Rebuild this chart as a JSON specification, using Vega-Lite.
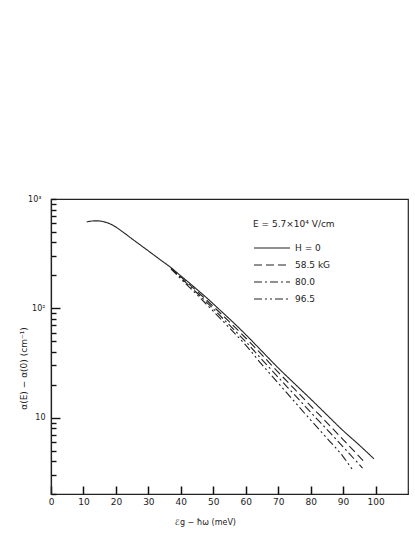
{
  "$schema": "https://vega.github.io/schema/vega-lite/v6.json",
  "width": 357,
  "height": 295,
  "autosize": "none",
  "padding": {"left": 51, "top": 199, "right": 7, "bottom": 43},
  "background": "white",
  "config": {"view": {"stroke": "#222", "strokeWidth": 1.2}, "font": "DejaVu Sans"},
  "data": {"values": [
    {"series": "H = 0", "x": 11, "y": 615},
    {"series": "H = 0", "x": 12, "y": 625},
    {"series": "H = 0", "x": 13, "y": 630},
    {"series": "H = 0", "x": 14, "y": 631},
    {"series": "H = 0", "x": 15, "y": 629},
    {"series": "H = 0", "x": 16, "y": 622},
    {"series": "H = 0", "x": 17, "y": 611},
    {"series": "H = 0", "x": 18, "y": 596},
    {"series": "H = 0", "x": 19, "y": 577},
    {"series": "H = 0", "x": 20, "y": 554},
    {"series": "H = 0", "x": 21, "y": 528},
    {"series": "H = 0", "x": 23, "y": 478},
    {"series": "H = 0", "x": 25, "y": 431},
    {"series": "H = 0", "x": 27.5, "y": 380},
    {"series": "H = 0", "x": 30, "y": 335},
    {"series": "H = 0", "x": 33.6, "y": 279},
    {"series": "H = 0", "x": 37, "y": 235},
    {"series": "H = 0", "x": 40, "y": 198},
    {"series": "H = 0", "x": 43, "y": 167},
    {"series": "H = 0", "x": 46, "y": 140},
    {"series": "H = 0", "x": 49, "y": 117},
    {"series": "H = 0", "x": 52, "y": 96.7},
    {"series": "H = 0", "x": 55, "y": 80},
    {"series": "H = 0", "x": 60, "y": 57.5},
    {"series": "H = 0", "x": 65, "y": 40.5},
    {"series": "H = 0", "x": 70, "y": 28.5},
    {"series": "H = 0", "x": 75, "y": 20.5},
    {"series": "H = 0", "x": 80, "y": 14.8},
    {"series": "H = 0", "x": 85, "y": 10.6},
    {"series": "H = 0", "x": 90, "y": 7.6},
    {"series": "H = 0", "x": 95, "y": 5.6},
    {"series": "H = 0", "x": 99.5, "y": 4.2},
    {"series": "58.5 kG", "x": 37, "y": 233},
    {"series": "58.5 kG", "x": 40, "y": 194},
    {"series": "58.5 kG", "x": 45, "y": 143},
    {"series": "58.5 kG", "x": 50, "y": 104},
    {"series": "58.5 kG", "x": 55, "y": 75},
    {"series": "58.5 kG", "x": 60, "y": 53.5},
    {"series": "58.5 kG", "x": 65, "y": 37.5},
    {"series": "58.5 kG", "x": 70, "y": 26},
    {"series": "58.5 kG", "x": 75, "y": 18.3},
    {"series": "58.5 kG", "x": 80, "y": 12.8},
    {"series": "58.5 kG", "x": 85, "y": 9.0},
    {"series": "58.5 kG", "x": 90, "y": 6.3},
    {"series": "58.5 kG", "x": 95, "y": 4.4},
    {"series": "58.5 kG", "x": 97, "y": 3.8},
    {"series": "80.0", "x": 37, "y": 231},
    {"series": "80.0", "x": 40, "y": 190},
    {"series": "80.0", "x": 45, "y": 138},
    {"series": "80.0", "x": 50, "y": 99},
    {"series": "80.0", "x": 55, "y": 70},
    {"series": "80.0", "x": 60, "y": 49.5},
    {"series": "80.0", "x": 65, "y": 34},
    {"series": "80.0", "x": 70, "y": 23.4},
    {"series": "80.0", "x": 75, "y": 16.2},
    {"series": "80.0", "x": 80, "y": 11.2},
    {"series": "80.0", "x": 85, "y": 7.8},
    {"series": "80.0", "x": 90, "y": 5.4},
    {"series": "80.0", "x": 96, "y": 3.45},
    {"series": "96.5", "x": 37, "y": 229},
    {"series": "96.5", "x": 40, "y": 186},
    {"series": "96.5", "x": 45, "y": 133},
    {"series": "96.5", "x": 50, "y": 94},
    {"series": "96.5", "x": 55, "y": 66},
    {"series": "96.5", "x": 60, "y": 46},
    {"series": "96.5", "x": 65, "y": 30.5},
    {"series": "96.5", "x": 70, "y": 20.7},
    {"series": "96.5", "x": 75, "y": 14.0},
    {"series": "96.5", "x": 80, "y": 9.5},
    {"series": "96.5", "x": 85, "y": 6.5},
    {"series": "96.5", "x": 90, "y": 4.4},
    {"series": "96.5", "x": 93, "y": 3.3}
  ]},
  "mark": {"type": "line", "color": "#222", "strokeWidth": 1.1, "interpolate": "monotone"},
  "encoding": {
    "x": {
      "field": "x", "type": "quantitative",
      "scale": {"domain": [0, 110], "nice": false, "zero": false},
      "axis": {
        "values": [0, 10, 20, 30, 40, 50, 60, 70, 80, 90, 100],
        "grid": false, "domainColor": "#222", "domainWidth": 1.2,
        "tickColor": "#111", "tickSize": -8, "tickWidth": 1.5,
        "labelFontSize": 9, "labelColor": "#222", "labelPadding": 11,
        "labelFlush": false,
        "title": "ℰg − ħω  (meV)", "titleFontSize": 8, "titleFontWeight": "normal", "titleColor": "#222",
        "titleX": 154, "titleY": 28, "titleBaseline": "middle"
      }
    },
    "y": {
      "field": "y", "type": "quantitative",
      "scale": {"type": "log", "domain": [2, 1000], "nice": false},
      "axis": {
        "values": [2, 3, 4, 5, 6, 7, 8, 9, 10, 20, 30, 40, 50, 60, 70, 80, 90, 100, 200, 300, 400, 500, 600, 700, 800, 900, 1000],
        "labelExpr": "datum.value == 10 ? '10' : datum.value == 100 ? '10²' : datum.value == 1000 ? '10³' : ''",
        "grid": false, "domainColor": "#222", "domainWidth": 1.2,
        "tickColor": "#111", "tickWidth": 1.4,
        "tickSize": {"condition": {"test": "datum.value == 10 || datum.value == 100", "value": -9}, "value": -5},
        "labelFontSize": 8, "labelColor": "#222", "labelPadding": 15,
        "title": "α(E) − α(0)    (cm⁻¹)", "titleFontSize": 9, "titleFontWeight": "normal", "titleColor": "#222",
        "titleX": -28, "titleY": 169, "titleAngle": -90, "titleAlign": "center", "titleBaseline": "middle"
      }
    },
    "strokeDash": {
      "field": "series", "type": "nominal",
      "scale": {"domain": ["H = 0", "58.5 kG", "80.0", "96.5"], "range": [[1, 0], [8, 4], [8, 3, 2, 3], [8, 3, 2, 3, 2, 3]]},
      "legend": {
        "orient": "none", "legendX": 202, "legendY": 21,
        "title": "E = 5.7×10⁴ V/cm", "titleFontSize": 9, "titleFontWeight": "normal", "titleColor": "#222",
        "titlePadding": 12,
        "labelFontSize": 9, "labelColor": "#222", "labelOffset": 28,
        "symbolType": "M-1,0H5", "symbolSize": 144, "symbolStrokeWidth": 1.1,
        "symbolStrokeColor": "#222", "symbolFillColor": "transparent",
        "rowPadding": 5
      }
    }
  }
}
